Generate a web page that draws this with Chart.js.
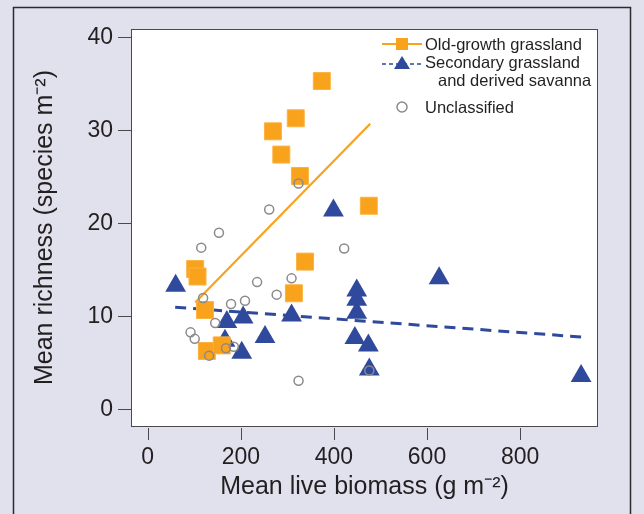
<!DOCTYPE html>
<html>
<head>
<meta charset="utf-8">
<script src="https://cdn.jsdelivr.net/npm/chart.js@4.4.1/dist/chart.umd.min.js"></script>
<style>
  html, body { margin: 0; padding: 0; background: #e1e1ee; }
  #wrap { width: 644px; height: 514px; }
</style>
</head>
<body>
<div id="wrap"><canvas id="chart" width="644" height="514"></canvas></div>
<script>
// Axis ticks
const xTicks = [0, 200, 400, 600, 800];
const yTicks = [0, 10, 20, 30, 40];

// Old-growth grassland (squares)
const oldGrowthX = [374, 269, 318, 287, 327, 475, 338, 314, 102, 107, 123, 127, 159];
const oldGrowthY = [35.3, 29.9, 31.3, 27.4, 25.1, 21.9, 15.9, 12.5, 15.1, 14.3, 10.7, 6.3, 6.9];

// Secondary grassland and derived savanna (triangles)
const secondaryX = [60, 170, 166, 205, 202, 252, 309, 399, 449, 449, 449, 445, 474, 476, 626, 931];
const secondaryY = [13.3, 9.4, 7.4, 9.9, 6.1, 7.8, 10.1, 21.4, 12.8, 11.8, 10.4, 7.7, 6.9, 4.3, 14.1, 3.6];

// Unclassified (open circles)
const unclassifiedX = [153, 115, 261, 324, 422, 235, 309, 277, 119, 179, 209, 145, 92, 101, 168, 185, 132, 324, 476];
const unclassifiedY = [19.0, 17.4, 21.5, 24.3, 17.3, 13.7, 14.1, 12.35, 12.0, 11.35, 11.7, 9.3, 8.3, 7.6, 6.6, 6.75, 5.8, 3.1, 4.2];

// Fitted lines (end points)
const oldGrowthFitX = [102, 478];
const oldGrowthFitY = [11.5, 30.7];
const secondaryFitX = [59, 932];
const secondaryFitY = [11.0, 7.8];

const ORANGE = '#f9a21c';
const BLUE = '#2f4a9c';
const GREY = '#8a8a8a';
const TEXT = '#231f20';
const FONT = "'Liberation Sans', Arial, Helvetica, sans-serif";

function toPoints(xs, ys) {
    return xs.map((x, i) => ({ x: x, y: ys[i] }));
}

// Frame, plot box, x tick marks and the legend
const decorPlugin = {
    id: 'decor',
    beforeDraw(chart) {
        const ctx = chart.ctx;
        const a = chart.chartArea;
        ctx.save();
        ctx.fillStyle = '#e1e1ee';
        ctx.fillRect(0, 0, chart.width, chart.height);
        ctx.strokeStyle = '#2b2b2b';
        ctx.lineWidth = 1.5;
        ctx.strokeRect(13.5, 7.5, 617, 530);
        ctx.fillStyle = '#ffffff';
        ctx.fillRect(a.left, a.top, a.right - a.left, a.bottom - a.top);
        ctx.restore();
    },
    afterDraw(chart) {
        const ctx = chart.ctx;
        const a = chart.chartArea;
        const xs = chart.scales.x;
        ctx.save();
        ctx.strokeStyle = '#4a4a4a';
        ctx.lineWidth = 1;
        ctx.strokeRect(a.left + 0.5, a.top + 0.5, a.right - a.left - 1, a.bottom - a.top);

        // x tick marks sit a little below the box
        ctx.beginPath();
        xTicks.forEach(v => {
            const px = Math.round(xs.getPixelForValue(v)) + 0.5;
            ctx.moveTo(px, a.bottom + 2);
            ctx.lineTo(px, a.bottom + 14);
        });
        ctx.stroke();

        // legend
        const lx = 382, rx = 422, cx = 402, tx = 425;
        ctx.font = '16.5px ' + FONT;
        ctx.fillStyle = TEXT;
        ctx.textBaseline = 'middle';
        ctx.textAlign = 'left';

        ctx.strokeStyle = ORANGE;
        ctx.lineWidth = 2;
        ctx.beginPath();
        ctx.moveTo(lx, 44); ctx.lineTo(rx, 44);
        ctx.stroke();
        ctx.fillStyle = ORANGE;
        ctx.fillRect(cx - 6, 38, 12, 12);
        ctx.fillStyle = TEXT;
        ctx.fillText('Old-growth grassland', tx, 45);

        ctx.strokeStyle = BLUE;
        ctx.lineWidth = 1.5;
        ctx.setLineDash([4, 3]);
        ctx.beginPath();
        ctx.moveTo(lx, 64); ctx.lineTo(rx, 64);
        ctx.stroke();
        ctx.setLineDash([]);
        ctx.fillStyle = BLUE;
        ctx.beginPath();
        ctx.moveTo(cx, 56); ctx.lineTo(cx + 8, 69); ctx.lineTo(cx - 8, 69);
        ctx.closePath();
        ctx.fill();
        ctx.fillStyle = TEXT;
        ctx.fillText('Secondary grassland', tx, 63);
        ctx.fillText('and derived savanna', 438, 81);

        ctx.strokeStyle = GREY;
        ctx.lineWidth = 1.5;
        ctx.beginPath();
        ctx.arc(cx, 107, 5, 0, Math.PI * 2);
        ctx.stroke();
        ctx.fillText('Unclassified', tx, 108);
        ctx.restore();
    }
};

const chart = new Chart(document.getElementById('chart'), {
    type: 'scatter',
    data: {
        datasets: [
            {
                label: 'Unclassified',
                data: toPoints(unclassifiedX, unclassifiedY),
                pointStyle: 'circle',
                pointRadius: 4.5,
                backgroundColor: 'rgba(255,255,255,0)',
                borderColor: GREY,
                borderWidth: 1.5
            },
            {
                label: 'Old-growth grassland',
                data: toPoints(oldGrowthX, oldGrowthY),
                pointStyle: 'rect',
                pointRadius: 12,
                backgroundColor: ORANGE,
                borderColor: '#fbb240',
                borderWidth: 1
            },
            {
                label: 'Secondary grassland and derived savanna',
                data: toPoints(secondaryX, secondaryY),
                pointStyle: 'triangle',
                pointRadius: 12,
                backgroundColor: BLUE,
                borderColor: BLUE,
                borderWidth: 0
            },
            {
                label: 'Old-growth fit',
                data: toPoints(oldGrowthFitX, oldGrowthFitY),
                showLine: true,
                pointRadius: 0,
                borderColor: ORANGE,
                borderWidth: 2.2
            },
            {
                label: 'Secondary fit',
                data: toPoints(secondaryFitX, secondaryFitY),
                showLine: true,
                pointRadius: 0,
                borderColor: BLUE,
                borderWidth: 3,
                borderDash: [11, 7]
            }
        ]
    },
    options: {
        responsive: false,
        animation: false,
        layout: { padding: { left: 0, top: 29, right: 46, bottom: 0 } },
        plugins: {
            legend: { display: false },
            tooltip: { enabled: false }
        },
        scales: {
            x: {
                type: 'linear',
                min: -35.9,
                max: 967.3,
                afterBuildTicks: scale => { scale.ticks = xTicks.map(v => ({ value: v })); },
                afterFit: scale => { scale.height = 88; },
                grid: { display: false, drawTicks: false },
                border: { display: false },
                ticks: {
                    padding: 18,
                    color: TEXT,
                    font: { family: FONT, size: 23 },
                    maxRotation: 0
                },
                title: {
                    display: true,
                    text: 'Mean live biomass (g m⁻²)',
                    color: TEXT,
                    font: { family: FONT, size: 25 },
                    padding: { top: 0, bottom: 12 }
                }
            },
            y: {
                type: 'linear',
                min: -1.76,
                max: 40.89,
                afterBuildTicks: scale => { scale.ticks = yTicks.map(v => ({ value: v })); },
                afterFit: scale => { scale.width = 131; },
                grid: {
                    drawOnChartArea: false,
                    drawTicks: true,
                    tickLength: 13,
                    color: '#4a4a4a'
                },
                border: { display: false },
                ticks: {
                    padding: 5,
                    color: TEXT,
                    font: { family: FONT, size: 23 }
                },
                title: {
                    display: true,
                    text: 'Mean richness (species m⁻²)',
                    color: TEXT,
                    font: { family: FONT, size: 25 },
                    padding: { top: 30, bottom: 0 }
                }
            }
        }
    },
    plugins: [decorPlugin]
});
</script>
</body>
</html>
